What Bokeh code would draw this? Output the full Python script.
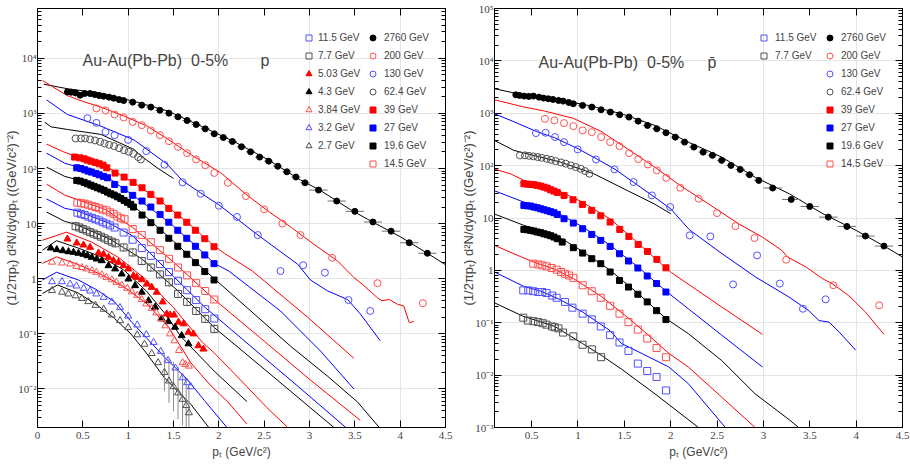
import math
from bokeh.plotting import figure
from bokeh.models import Range1d, LinearAxis, LogAxis, FixedTicker, Label, Legend, LegendItem
from bokeh.layouts import row
from bokeh.embed import file_html
from bokeh.resources import INLINE

# ---------------- tick labels ----------------
X_TICKS_L = [0, 0.5, 1, 1.5, 2, 2.5, 3, 3.5, 4, 4.5]
X_LABELS_L = ["0", "0.5", "1", "1.5", "2", "2.5", "3", "3.5", "4", "4.5"]
X_TICKS_R = [0.5, 1, 1.5, 2, 2.5, 3, 3.5, 4, 4.5]
X_LABELS_R = ["0.5", "1", "1.5", "2", "2.5", "3", "3.5", "4", "4.5"]
Y_TICKS_L = [1e-2, 1e-1, 1, 10, 100, 1000, 1e4]
Y_LABELS_L = ["10\u207b\u00b2", "10\u207b\u00b9", "1", "10", "10\u00b2", "10\u00b3", "10\u2074"]
Y_TICKS_R = [1e-3, 1e-2, 1e-1, 1, 10, 100, 1000, 1e4, 1e5]
Y_LABELS_R = ["10\u207b\u00b3", "10\u207b\u00b2", "10\u207b\u00b9", "1", "10", "10\u00b2", "10\u00b3", "10\u2074", "10\u2075"]
X_TITLE = "p\u209c (GeV/c\u00b2)"
Y_TITLE = "(1/2\u03c0p\u209c) d\u00b2N/dydp\u209c ((GeV/c\u00b2)\u207b\u00b2)"

# ---------------- LEFT panel (protons) ----------------
PT_2760 = [0.33, 0.37, 0.42, 0.47, 0.52, 0.58, 0.63, 0.68, 0.73, 0.79, 0.84, 0.90, 0.95,
           1.05, 1.15, 1.25, 1.35, 1.45, 1.55, 1.65, 1.75, 1.85, 1.95, 2.05, 2.15, 2.25, 2.35,
           2.45, 2.55, 2.65, 2.75, 2.85, 2.95, 3.1, 3.3, 3.5, 3.7, 3.9, 4.1, 4.3]
HW_2760 = [0.025] * 13 + [0.05] * 20 + [0.1] * 7
L_2760_Y = [2450, 2420, 2350, 2140, 2290, 2290, 2200, 2110, 2050, 1970, 1890, 1780, 1710,
            1600, 1410, 1300, 1140, 1010, 866, 743, 629, 525, 426, 365, 309, 248, 201, 161, 136,
            110, 87, 70, 55, 40.6, 25.7, 16.7, 10.7, 7.3, 4.5, 2.9]
L_2760_LX = [0.07, 0.33, 0.7, 1.06, 1.44, 1.8, 2.16, 2.54, 2.9, 3.12, 3.45, 3.64, 4.0, 4.3, 4.5]
L_2760_LY = [3380, 2800, 2320, 1660, 1100, 590, 313, 145, 62, 40, 18, 12, 5.8, 2.9, 1.8]

L_200_PT = [0.65, 0.75, 0.85, 0.95, 1.05, 1.15, 1.25, 1.35, 1.45, 1.55, 1.65, 1.75, 1.85, 1.95,
            2.1, 2.3, 2.5, 2.7, 2.9, 3.25, 3.75, 4.25]
L_200_Y = [1230, 1130, 955, 843, 702, 611, 490, 403, 313, 247, 190, 146, 115, 83, 55, 31.6, 18.2,
           10, 6.2, 2.4, 0.83, 0.36]
L_200_LX = [0.055, 0.18, 0.33, 0.5, 0.7, 0.95, 1.2, 1.45, 1.7, 2.02, 2.3, 2.57, 2.8, 3.05, 3.31,
            3.49, 3.58, 3.75, 3.8, 3.88, 3.97, 4.04, 4.1, 4.15]
L_200_LY = [3950, 2950, 2100, 1650, 1300, 900, 600, 330, 175, 84, 34, 15.7, 8.5, 4.2, 2.1, 1.05,
            0.8, 0.45, 0.4, 0.42, 0.345, 0.32, 0.16, 0.167]

L_130_PT = [0.55, 0.65, 0.75, 0.85, 1.0, 1.2, 1.4, 1.6, 1.8, 2.0, 2.2, 2.43, 2.68, 2.93, 3.17, 3.43, 3.67]
L_130_Y = [818, 673, 462, 403, 331, 207, 117, 56, 34.8, 21.1, 13.2, 6.2, 1.38, 1.76, 1.29, 0.41, 0.26]
L_130_LX = [0.1, 0.33, 0.7, 1.065, 1.43, 1.6, 1.8, 2.0, 2.42, 2.87, 3.01, 3.2, 3.42, 3.56, 3.78]
L_130_LY = [1760, 955, 586, 330, 120, 60, 36, 22, 6.4, 1.83, 0.95, 0.6, 0.42, 0.23, 0.075]

L_62_PT = [0.42, 0.48, 0.525, 0.58, 0.635, 0.69, 0.74, 0.79, 0.845, 0.90, 0.955, 1.006, 1.057, 1.11, 1.14]
L_62_Y = [351, 351, 351, 337, 323, 305, 285, 269, 255, 234, 215, 201, 185, 161, 146]
L_62_LX = [0.08, 0.15, 0.33, 0.7, 1.065, 1.14, 1.32, 1.5]
L_62_LY = [692, 570, 511, 415, 222, 170, 103, 66]

L_39_PT = [0.41, 0.466, 0.514, 0.55, 0.588, 0.635, 0.68, 0.723, 0.764, 0.855, 0.955, 1.054, 1.153,
           1.25, 1.352, 1.448, 1.547, 1.646, 1.742, 1.845, 1.947]
L_39_Y = [161, 156, 150, 142, 136, 129, 122, 115, 103, 82.6, 69.8, 56, 44.7, 33.9, 25.7, 18.9, 14.3,
          10.6, 7.57, 5.32, 3.81]
L_39_LX = [0.1, 0.29, 0.41, 0.6, 0.76, 1.05, 1.35, 1.65, 1.95, 2.06, 2.37, 2.98, 3.49]
L_39_LY = [277, 200, 168, 138, 108, 57, 26, 10.6, 3.9, 2.9, 1.38, 0.2, 0.036]

L_27_PT = [0.433, 0.477, 0.52, 0.558, 0.595, 0.643, 0.68, 0.727, 0.772, 0.852, 0.955, 1.05, 1.153,
           1.25, 1.352, 1.448, 1.547, 1.646, 1.742, 1.845, 1.947]
L_27_Y = [103, 100, 94.7, 89.7, 86, 81.5, 76.9, 71.9, 67.9, 51.5, 41.8, 32.6, 25.7, 20, 14.7, 10.6,
          7.57, 5.42, 3.88, 2.7, 1.88]
L_27_LX = [0.1, 0.3, 0.43, 0.77, 1.05, 1.45, 1.75, 1.95, 2.11, 2.68, 3.12, 3.49]
L_27_LY = [190, 125, 108, 70, 33, 10.6, 3.9, 1.9, 1.38, 0.26, 0.049, 0.01]

L_19_PT = [0.433, 0.47, 0.514, 0.551, 0.588, 0.624, 0.661, 0.698, 0.734, 0.772, 0.808, 0.845, 0.881,
           0.918, 0.955, 0.992, 1.029, 1.058, 1.153, 1.25, 1.352, 1.448, 1.547, 1.646, 1.742, 1.845, 1.947]
L_19_Y = [60.9, 59.1, 56, 52.8, 50, 47.4, 44.7, 42.4, 40.1, 37.3, 34.8, 33, 30.7, 28.7, 26.4, 24.3,
          22.4, 20, 14.3, 10.4, 7.57, 5.42, 3.88, 2.78, 1.96, 1.35, 0.95]
L_19_LX = [0.1, 0.3, 0.43, 0.77, 1.06, 1.5, 1.85, 2.31, 2.79, 3.2, 3.53, 3.77]
L_19_LY = [106, 72, 63, 40, 21, 4.8, 1.4, 0.3, 0.06, 0.017, 0.0058, 0.002]

L_14_PT = [0.44, 0.48, 0.52, 0.56, 0.6, 0.64, 0.68, 0.72, 0.76, 0.8, 0.84, 0.88, 0.92, 0.96, 1.05,
           1.15, 1.25, 1.35, 1.45, 1.55, 1.65, 1.75, 1.85, 1.95]
L_14_Y = [24, 23.5, 23, 22, 21, 20, 19, 18, 17.4, 16, 15, 13.5, 12.5, 12, 8.0, 6.2, 4.6, 3.3, 2.3,
          1.6, 1.15, 0.83, 0.6, 0.42]
L_14_LX = [0.1, 0.3, 0.45, 0.75, 1.05, 1.5, 1.95, 2.5, 3.0, 3.56]
L_14_LY = [52, 33, 27, 18, 8.5, 2.0, 0.42, 0.074, 0.015, 0.0027]

L_11_PT = [0.44, 0.48, 0.52, 0.56, 0.6, 0.64, 0.68, 0.72, 0.76, 0.8, 0.85, 0.95, 1.05, 1.15, 1.25,
           1.35, 1.45, 1.55, 1.65, 1.75, 1.85, 1.95]
L_11_Y = [15.8, 15, 14.3, 13.4, 12.7, 12, 11.4, 10.6, 10, 9.3, 8.5, 6.9, 5.1, 3.6, 2.6, 1.85, 1.32,
          0.92, 0.62, 0.41, 0.28, 0.19]
L_11_LX = [0.1, 0.3, 0.44, 0.8, 1.05, 1.5, 1.85, 2.5, 3.0, 3.4]
L_11_LY = [28, 19, 17, 10, 6, 1.1, 0.3, 0.037, 0.0074, 0.002]

L_7_PT = [0.42, 0.46, 0.5, 0.54, 0.58, 0.62, 0.66, 0.7, 0.74, 0.78, 0.82, 0.86, 0.95, 1.05, 1.15,
          1.25, 1.35, 1.45, 1.55, 1.65, 1.75, 1.85, 1.95]
L_7_Y = [9.0, 8.5, 8.0, 7.5, 7.0, 6.6, 6.2, 5.8, 5.4, 5.0, 4.7, 4.4, 3.7, 3.0, 2.1, 1.6, 1.2, 0.86,
         0.53, 0.38, 0.26, 0.187, 0.123]
L_7_ERRF = [1.2] * 23
L_7_LX = [0.1, 0.3, 0.42, 0.8, 1.15, 1.55, 1.95, 2.5, 3.0, 3.27]
L_7_LY = [16.2, 11, 9.7, 5.2, 2.3, 0.6, 0.13, 0.023, 0.0047, 0.002]

L_503_PT = [0.33, 0.433, 0.507, 0.58, 0.672, 0.728, 0.783, 0.838, 0.893, 0.948, 1.003, 1.058, 1.095,
            1.15, 1.205, 1.26, 1.315, 1.38, 1.425, 1.462, 1.506, 1.555, 1.61, 1.665, 1.72, 1.775, 1.83]
L_503_Y = [5.26, 4.45, 4.1, 3.72, 2.93, 2.78, 2.45, 2.13, 1.99, 1.73, 1.51, 1.14, 1.06, 0.96, 0.8,
           0.70, 0.57, 0.38, 0.23, 0.22, 0.22, 0.163, 0.152, 0.107, 0.1, 0.061, 0.053]
L_503_LX = [0.055, 0.32, 0.6, 0.9, 1.2, 1.5, 1.82, 1.95, 2.31, 2.53, 2.76]
L_503_LY = [5.0, 7.0, 4.6, 2.4, 0.95, 0.3, 0.07, 0.045, 0.011, 0.0046, 0.002]

L_43_PT = [0.147, 0.213, 0.279, 0.342, 0.397, 0.452, 0.507, 0.551, 0.599, 0.654, 0.709, 0.783, 0.856,
           0.929, 1.003, 1.076, 1.15, 1.224, 1.297, 1.37, 1.444, 1.517, 1.59, 1.665]
L_43_Y = [3.61, 3.37, 3.23, 3.1, 3.02, 2.9, 2.78, 2.62, 2.45, 2.28, 2.13, 1.73, 1.51, 1.22, 0.99,
          0.75, 0.57, 0.40, 0.305, 0.187, 0.167, 0.132, 0.093, 0.066]
L_43_LX = [0.055, 0.21, 0.45, 0.7, 0.95, 1.2, 1.4, 1.58, 1.95, 2.31]
L_43_LY = [3.3, 4.9, 3.6, 2.5, 1.45, 0.6, 0.24, 0.09, 0.021, 0.0059]

L_384_PT = [0.16, 0.27, 0.36, 0.43, 0.49, 0.54, 0.6, 0.65, 0.71, 0.76, 0.82, 0.87, 0.93, 0.99, 1.04,
            1.1, 1.15, 1.2, 1.26, 1.31, 1.36, 1.41, 1.46, 1.51, 1.56, 1.6, 1.63, 1.67]
L_384_Y = [2.0, 1.93, 1.85, 1.68, 1.6, 1.51, 1.4, 1.31, 1.18, 1.06, 0.96, 0.86, 0.76, 0.67, 0.58,
           0.5, 0.42, 0.35, 0.29, 0.24, 0.19, 0.14, 0.1, 0.075, 0.05, 0.03, 0.028, 0.026]
L_384_LX = [0.055, 0.21, 0.45, 0.7, 0.95, 1.2, 1.45, 1.69, 1.9, 2.1, 2.31]
L_384_LY = [1.9, 2.5, 1.8, 1.2, 0.72, 0.36, 0.13, 0.03, 0.012, 0.0058, 0.0023]

L_32_PT = [0.16, 0.27, 0.36, 0.43, 0.51, 0.58, 0.65, 0.73, 0.82, 0.91, 1.0, 1.1, 1.2, 1.28, 1.36,
           1.44, 1.52, 1.6, 1.65, 1.69]
L_32_Y = [0.885, 0.885, 0.8, 0.74, 0.67, 0.6, 0.53, 0.46, 0.38, 0.3, 0.21, 0.145, 0.097, 0.07, 0.048,
          0.033, 0.024, 0.016, 0.013, 0.011]
L_32_LX = [0.055, 0.21, 0.45, 0.66, 0.85, 1.03, 1.2, 1.4, 1.65, 1.84, 2.09]
L_32_LY = [0.95, 1.31, 0.95, 0.62, 0.38, 0.17, 0.085, 0.038, 0.015, 0.0062, 0.002]

L_2p7_PT = [0.16, 0.27, 0.34, 0.42, 0.49, 0.56, 0.64, 0.73, 0.82, 0.91, 1.0, 1.1, 1.18, 1.26, 1.33,
            1.4, 1.45, 1.5, 1.55, 1.6, 1.64, 1.67]
L_2p7_Y = [0.61, 0.57, 0.53, 0.49, 0.44, 0.385, 0.33, 0.28, 0.22, 0.174, 0.13, 0.096, 0.065, 0.044,
           0.03, 0.02, 0.014, 0.011, 0.0085, 0.0065, 0.005, 0.0037]
L_2p7_ERRF = [1.0] * 15 + [2.2, 2.5, 2.8, 3.0, 3.0, 3.0, 3.0]
L_2p7_LX = [0.055, 0.22, 0.45, 0.66, 0.85, 1.03, 1.2, 1.4, 1.55, 1.69, 1.89]
L_2p7_LY = [0.54, 0.77, 0.55, 0.33, 0.19, 0.1, 0.045, 0.016, 0.009, 0.0053, 0.002]

# ---------------- RIGHT panel (antiprotons) ----------------
R_2760_Y = [2250, 2190, 2125, 2094, 2125, 2030, 1945, 1890, 1835, 1755, 1705, 1608, 1517,
            1410, 1310, 1165, 1052, 935, 844, 707, 585, 505, 424, 350, 281, 226, 181, 157, 126,
            101, 84.6, 67, 52.2, 37.3, 22.6, 16.6, 10.4, 6.9, 4.52, 2.91]
R_2760_LX = [0.1, 0.32, 0.75, 1.11, 1.47, 1.83, 2.19, 2.55, 2.91, 3.28, 3.64, 4.0, 4.32, 4.5]
R_2760_LY = [2940, 2420, 1890, 1410, 977, 585, 281, 146, 60, 29, 12.1, 5.8, 2.79, 1.8]

R_200_PT = [0.644, 0.745, 0.85, 0.95, 1.051, 1.149, 1.25, 1.347, 1.448, 1.552, 1.65, 1.754, 1.851,
            1.952, 2.104, 2.302, 2.5, 2.698, 2.904, 3.246, 3.754, 4.248]
R_200_Y = [784, 729, 649, 568, 470, 436, 351, 281, 236, 173, 133, 105, 81, 58.6, 37.8, 23.3, 12.4,
           7.0, 4.14, 1.6, 0.52, 0.215]
R_200_LX = [0.1, 0.39, 0.64, 0.95, 1.25, 1.55, 1.85, 2.1, 2.4, 2.73, 2.99, 3.2, 3.26, 3.46, 3.64,
            3.74, 3.92, 4.1, 4.3]
R_200_LY = [1810, 1350, 1100, 800, 450, 200, 88, 42, 19, 7.8, 4.3, 2.4, 1.8, 1.16, 0.69, 0.56,
            0.33, 0.16, 0.06]

R_130_PT = [0.547, 0.651, 0.752, 0.85, 0.997, 1.195, 1.394, 1.6, 1.797, 1.995, 2.205, 2.428, 2.673,
            2.932, 3.177, 3.426, 3.671]
R_130_Y = [418, 424, 351, 281, 204, 131, 84.6, 48.5, 27, 16.2, 4.66, 4.45, 0.54, 1.93, 0.56, 0.185, 0.28]
R_130_LX = [0.1, 0.3, 0.55, 0.75, 1.0, 1.2, 1.4, 1.6, 1.8, 2.0, 2.2, 2.554, 2.914, 3.275, 3.49, 3.6,
            3.707, 3.815, 3.995]
R_130_LY = [977, 700, 450, 340, 210, 135, 85, 48, 27, 15, 6, 2.08, 0.75, 0.31, 0.17, 0.11, 0.103,
            0.067, 0.03]

R_62_PT = [0.374, 0.428, 0.471, 0.518, 0.565, 0.608, 0.662, 0.709, 0.759, 0.817, 0.868, 0.922, 0.976,
           1.03, 1.077, 1.123]
R_62_Y = [157, 157, 154, 150, 146, 141, 135, 129, 122, 115, 109, 101, 94, 87, 78.7, 70]
R_62_LX = [0.1, 0.31, 0.45, 0.81, 1.17, 1.53, 1.82, 2.0]
R_62_LY = [303, 195, 169, 117, 70, 33.6, 18.7, 12.1]

R_39_PT = [0.417, 0.453, 0.489, 0.525, 0.561, 0.597, 0.633, 0.669, 0.705, 0.741, 0.777, 0.85, 0.947,
           1.048, 1.149, 1.246, 1.347, 1.451, 1.549, 1.65, 1.75, 1.851, 1.949]
R_39_Y = [45.1, 44.4, 43.8, 43.2, 41.9, 40.7, 38.9, 37.2, 34.6, 32.7, 30.8, 27, 22.3, 18.2, 14, 11,
          8.36, 6.06, 4.45, 3.13, 2.3, 1.62, 1.12]
R_39_LX = [0.09, 0.27, 0.42, 0.78, 1.05, 1.35, 1.65, 1.95, 2.01, 2.55, 2.99]
R_39_LY = [87, 70, 52, 34, 20, 9.5, 3.3, 1.1, 0.9, 0.2, 0.06]

R_27_PT = [0.417, 0.453, 0.489, 0.525, 0.561, 0.597, 0.633, 0.669, 0.705, 0.741, 0.777, 0.85, 0.95,
           1.051, 1.149, 1.246, 1.347, 1.448, 1.545, 1.646, 1.747, 1.848, 1.949]
R_27_Y = [17.4, 17.1, 16.9, 16.2, 15.7, 15, 14.4, 13.8, 13.2, 12.6, 11.7, 9.68, 8.0, 6.24, 4.86,
          3.74, 2.87, 2.08, 1.51, 1.11, 0.78, 0.56, 0.386]
R_27_LX = [0.09, 0.42, 0.78, 1.05, 1.35, 1.65, 1.95, 2.19, 2.55, 2.99]
R_27_LY = [33.6, 20, 12.5, 6.8, 3.0, 1.15, 0.4, 0.185, 0.058, 0.0143]

R_19_PT = [0.417, 0.453, 0.489, 0.525, 0.561, 0.597, 0.633, 0.669, 0.705, 0.741, 0.777, 0.83, 0.95,
           1.051, 1.149, 1.246, 1.347, 1.448, 1.545, 1.646, 1.747, 1.848, 1.949]
R_19_Y = [6.06, 5.97, 5.8, 5.63, 5.4, 5.24, 5.0, 4.8, 4.59, 4.33, 4.02, 3.47, 2.71, 2.14, 1.67, 1.34,
          0.93, 0.64, 0.48, 0.35, 0.25, 0.17, 0.115]
R_19_LX = [0.09, 0.42, 0.78, 1.05, 1.35, 1.65, 1.95, 2.19, 2.55, 2.91, 3.28, 3.38]
R_19_LY = [12.1, 7.2, 4.5, 2.3, 1.0, 0.36, 0.12, 0.062, 0.019, 0.0044, 0.0014, 0.001]

R_14_PT = [0.518, 0.572, 0.615, 0.662, 0.716, 0.77, 0.818, 0.861, 0.904, 0.95, 1.051, 1.149, 1.246,
           1.347, 1.448, 1.545, 1.646, 1.747, 1.848, 1.949]
R_14_Y = [1.34, 1.3, 1.25, 1.19, 1.11, 1.03, 0.93, 0.86, 0.80, 0.72, 0.52, 0.40, 0.30, 0.21, 0.149,
          0.103, 0.074, 0.05, 0.033, 0.022]
R_14_LX = [0.1, 0.39, 0.52, 0.75, 0.95, 1.25, 1.55, 1.75, 1.98, 2.19, 2.55, 2.91]
R_14_LY = [3.0, 1.8, 1.45, 1.05, 0.7, 0.32, 0.12, 0.06, 0.026, 0.0143, 0.0038, 0.001]

R_11_PT = [0.41, 0.464, 0.518, 0.572, 0.615, 0.662, 0.723, 0.77, 0.86, 0.94, 1.051, 1.149, 1.246,
           1.347, 1.448, 1.545, 1.646, 1.747, 1.848, 1.949]
R_11_Y = [0.415, 0.415, 0.40, 0.386, 0.386, 0.37, 0.33, 0.30, 0.25, 0.194, 0.149, 0.116, 0.085,
          0.058, 0.042, 0.029, 0.0166, 0.012, 0.0092, 0.0051]
R_11_LX = [0.1, 0.41, 0.6, 0.8, 1.05, 1.35, 1.47, 1.65, 1.98, 2.19, 2.59]
R_11_LY = [0.93, 0.5, 0.4, 0.28, 0.16, 0.07, 0.04, 0.028, 0.0143, 0.0069, 0.001]

R_7_PT = [0.41, 0.46, 0.52, 0.57, 0.62, 0.66, 0.72, 0.75, 0.79, 0.84, 0.95, 1.05, 1.15, 1.25]
R_7_Y = [0.125, 0.11, 0.107, 0.103, 0.098, 0.092, 0.085, 0.082, 0.078, 0.065, 0.055, 0.038, 0.031, 0.022]
R_7_LX = [0.1, 0.4, 0.75, 1.05, 1.25, 1.47, 1.83, 2.3]
R_7_LY = [0.24, 0.135, 0.085, 0.04, 0.024, 0.013, 0.0044, 0.001]

# ---------------- styles ----------------
RED, BLUE, BLACK = "#ff0000", "#0000ff", "#000000"
PINK, LBLUE, GRAY = "#ff5050", "#5050ff", "#505050"
STYLE = {
    "2760": ("circle", BLACK, BLACK, BLACK, 6),
    "200": ("circle", PINK, None, RED, 7),
    "130": ("circle", LBLUE, None, BLUE, 7),
    "62.4": ("circle", GRAY, None, BLACK, 7),
    "39": ("square", RED, RED, RED, 6),
    "27": ("square", BLUE, BLUE, BLUE, 6),
    "19.6": ("square", BLACK, BLACK, BLACK, 6),
    "14.5": ("square", PINK, None, RED, 7),
    "11.5": ("square", LBLUE, None, BLUE, 7),
    "7.7": ("square", GRAY, None, BLACK, 7),
    "5.03": ("triangle", RED, RED, RED, 7),
    "4.3": ("triangle", BLACK, BLACK, BLACK, 7),
    "3.84": ("triangle", PINK, None, RED, 7),
    "3.2": ("triangle", LBLUE, None, BLUE, 7),
    "2.7": ("triangle", GRAY, None, BLACK, 7),
}
SANS = "Liberation Sans"
SERIF = "Liberation Serif"


def minor_log(lo, hi):
    out = []
    for k in range(-4, 6):
        for m in range(2, 10):
            v = m * 10.0 ** k
            if lo < v < hi:
                out.append(v)
    return out


def make_panel(width, height, bl, br, bt, bb, xr, yr, xt, xl, yt, yl, series, ebars, legends,
               title_x, sym_x, title_y, symbol):
    p = figure(width=width, height=height, x_range=Range1d(*xr), y_range=Range1d(*yr),
               y_axis_type="log", x_axis_location=None, y_axis_location=None,
               output_backend="svg", toolbar_location=None,
               min_border_left=bl, min_border_right=br, min_border_top=bt, min_border_bottom=bb)
    p.outline_line_color = "black"
    p.outline_line_width = 1
    p.background_fill_color = "white"
    p.border_fill_color = "white"

    xtick = FixedTicker(ticks=xt, minor_ticks=[])
    ytick = FixedTicker(ticks=yt, minor_ticks=minor_log(*yr))
    for loc, lab in (("below", True), ("above", False)):
        ax = LinearAxis(ticker=xtick)
        ax.major_tick_in, ax.major_tick_out = 7, 0
        ax.minor_tick_in, ax.minor_tick_out = 0, 0
        ax.axis_line_color = "black"
        ax.major_label_text_font = SERIF
        if lab:
            ax.major_label_overrides = dict(zip(xt, xl))
            ax.major_label_text_font_size = "11px"
            ax.major_label_standoff = 4
            ax.axis_label = X_TITLE
            ax.axis_label_text_font = SANS
            ax.axis_label_text_font_size = "12px"
            ax.axis_label_text_font_style = "normal"
            ax.axis_label_standoff = 3
        else:
            ax.major_label_overrides = {t: "" for t in xt}
            ax.major_label_text_font_size = "0px"
            ax.major_label_standoff = 0
        p.add_layout(ax, loc)
    for loc, lab in (("left", True), ("right", False)):
        ax = LogAxis(ticker=ytick)
        ax.major_tick_in, ax.major_tick_out = 7, 0
        ax.minor_tick_in, ax.minor_tick_out = 4, 0
        ax.axis_line_color = "black"
        ax.major_label_text_font = SERIF
        if lab:
            ax.major_label_overrides = dict(zip(yt, yl))
            ax.major_label_text_font_size = "11px"
            ax.major_label_standoff = 1
            ax.axis_label = Y_TITLE
            ax.axis_label_text_font = SANS
            ax.axis_label_text_font_size = "13px"
            ax.axis_label_text_font_style = "normal"
            ax.axis_label_standoff = -4
        else:
            ax.major_label_overrides = {t: "" for t in yt}
            ax.major_label_text_font_size = "0px"
            ax.major_label_standoff = 0
        p.add_layout(ax, loc)

    # model curves
    for key, px, py, lx, ly in series:
        p.line(lx, ly, line_color=STYLE[key][3], line_width=1)
    # error bars
    for kind, px, py, e in ebars:
        if kind == "v":
            p.segment(x0=px, y0=[v / f for v, f in zip(py, e)], x1=px,
                      y1=[v * f for v, f in zip(py, e)], line_color="#8c8c8c", line_width=1)
        else:
            p.segment(x0=[x - h for x, h in zip(px, e)], y0=py,
                      x1=[x + h for x, h in zip(px, e)], y1=py, line_color="#707070", line_width=1)
    # data points
    rend = {}
    for key, px, py, lx, ly in series:
        mk, lc, fc, _, sz = STYLE[key]
        rend[key] = p.scatter(px, py, marker=mk, size=sz, line_color=lc, fill_color=fc, line_width=1)

    for keys, loc, stand in legends:
        items = [LegendItem(label=k + " GeV", renderers=[rend[k]]) for k in keys]
        leg = Legend(items=items, location=loc, orientation="vertical",
                     glyph_width=15, glyph_height=15, label_height=15, label_width=10,
                     spacing=3, padding=0, margin=0, label_standoff=stand,
                     border_line_color=None, background_fill_alpha=0,
                     label_text_font=SANS, label_text_font_size="10px")
        p.add_layout(leg)

    p.add_layout(Label(x=title_x, y=title_y, x_units="screen", y_units="screen",
                       text="Au-Au(Pb-Pb)\u00a0\u00a00-5%", text_font=SANS, text_font_size="16px",
                       text_baseline="middle", text_align="left"))
    p.add_layout(Label(x=sym_x, y=title_y, x_units="screen", y_units="screen",
                       text=symbol, text_font=SANS, text_font_size="16px",
                       text_baseline="middle", text_align="left"))
    return p


left_series = [
    ("2760", PT_2760, L_2760_Y, L_2760_LX, L_2760_LY),
    ("200", L_200_PT, L_200_Y, L_200_LX, L_200_LY),
    ("130", L_130_PT, L_130_Y, L_130_LX, L_130_LY),
    ("62.4", L_62_PT, L_62_Y, L_62_LX, L_62_LY),
    ("39", L_39_PT, L_39_Y, L_39_LX, L_39_LY),
    ("27", L_27_PT, L_27_Y, L_27_LX, L_27_LY),
    ("19.6", L_19_PT, L_19_Y, L_19_LX, L_19_LY),
    ("14.5", L_14_PT, L_14_Y, L_14_LX, L_14_LY),
    ("11.5", L_11_PT, L_11_Y, L_11_LX, L_11_LY),
    ("7.7", L_7_PT, L_7_Y, L_7_LX, L_7_LY),
    ("5.03", L_503_PT, L_503_Y, L_503_LX, L_503_LY),
    ("4.3", L_43_PT, L_43_Y, L_43_LX, L_43_LY),
    ("3.84", L_384_PT, L_384_Y, L_384_LX, L_384_LY),
    ("3.2", L_32_PT, L_32_Y, L_32_LX, L_32_LY),
    ("2.7", L_2p7_PT, L_2p7_Y, L_2p7_LX, L_2p7_LY),
]
left_ebars = [("h", PT_2760, L_2760_Y, HW_2760), ("v", L_7_PT, L_7_Y, L_7_ERRF),
              ("v", L_2p7_PT, L_2p7_Y, L_2p7_ERRF)]
right_series = [
    ("2760", PT_2760, R_2760_Y, R_2760_LX, R_2760_LY),
    ("200", R_200_PT, R_200_Y, R_200_LX, R_200_LY),
    ("130", R_130_PT, R_130_Y, R_130_LX, R_130_LY),
    ("62.4", R_62_PT, R_62_Y, R_62_LX, R_62_LY),
    ("39", R_39_PT, R_39_Y, R_39_LX, R_39_LY),
    ("27", R_27_PT, R_27_Y, R_27_LX, R_27_LY),
    ("19.6", R_19_PT, R_19_Y, R_19_LX, R_19_LY),
    ("14.5", R_14_PT, R_14_Y, R_14_LX, R_14_LY),
    ("11.5", R_11_PT, R_11_Y, R_11_LX, R_11_LY),
    ("7.7", R_7_PT, R_7_Y, R_7_LX, R_7_LY),
]
right_ebars = [("h", PT_2760, R_2760_Y, HW_2760)]

COL_A_L = ["11.5", "7.7", "5.03", "4.3", "3.84", "3.2", "2.7"]
COL_B = ["2760", "200", "130", "62.4", "39", "27", "19.6", "14.5"]
COL_A_R = ["11.5", "7.7"]

# both frames: top at y=8, bottom at y=427 (height 419)
pl = make_panel(455, 464, 37, 10, 8, 37, (0, 4.5), (2e-3, 8e4), X_TICKS_L, X_LABELS_L, Y_TICKS_L,
                Y_LABELS_L, left_series, left_ebars,
                [(COL_A_L, (264, 274), 2), (COL_B, (328, 256), 4)],
                45, 223, 367, "p")
pr = make_panel(455, 464, 39, 8, 8, 37, (0.1, 4.5), (1e-3, 1e5), X_TICKS_R, X_LABELS_R, Y_TICKS_R,
                Y_LABELS_R, right_series, right_ebars,
                [(COL_A_R, (262, 364), 4), (COL_B, (328, 256), 4)],
                44, 213, 365, "p\u0304")

layout = row(pl, pr)
open("out.html", "w").write(file_html(layout, INLINE))
